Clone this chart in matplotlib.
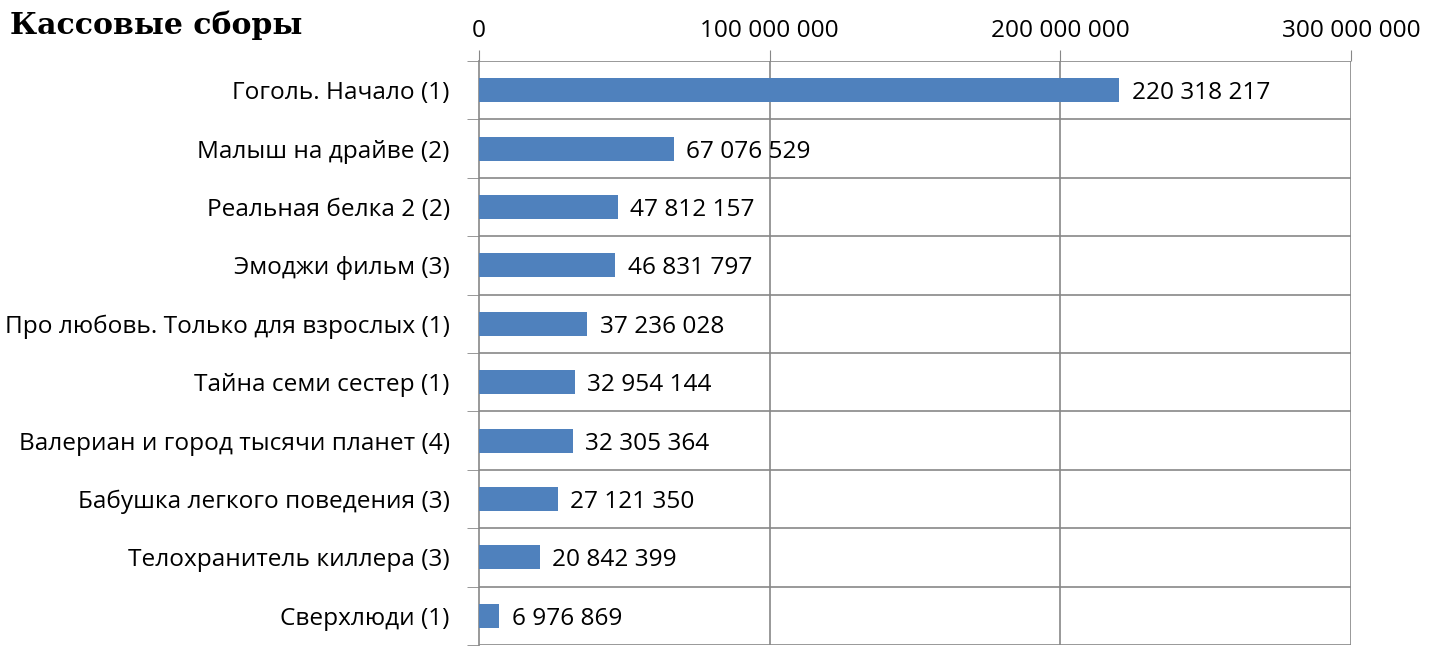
import matplotlib.pyplot as plt
import numpy as np

films = ['Гоголь. Начало (1)', 'Малыш на драйве (2)', 'Реальная белка 2 (2)',
         'Эмоджи фильм (3)', 'Про любовь. Только для взрослых (1)',
         'Тайна семи сестер (1)', 'Валериан и город тысячи планет (4)',
         'Бабушка легкого поведения (3)', 'Телохранитель киллера (3)',
         'Сверхлюди (1)']
sbory = [220318217, 67076529, 47812157, 46831797, 37236028,
         32954144, 32305364, 27121350, 20842399, 6976869]
xticks = [0, 100000000, 200000000, 300000000]

def fmt(v):
    return f'{v:,}'.replace(',', ' ')

plt.rcParams['font.family'] = ['Open Sans', 'DejaVu Sans']
grey = '#878787'
fs = 17.6

fig = plt.figure(figsize=(14.34, 6.63), dpi=100)
ax = fig.add_axes([479 / 1434, 18 / 663, 872 / 1434, 584 / 663])

y = np.arange(len(films))
ax.barh(y, sbory, height=0.41, color='#4f81bd', zorder=3)
for yi, v in zip(y, sbory):
    ax.text(v + 4300000, yi, fmt(v), va='center_baseline', ha='left', fontsize=fs)

ax.set_xlim(0, 300000000)
ax.set_ylim(len(films) - 0.5, -0.5)

ax.xaxis.tick_top()
ax.set_xticks(xticks)
ax.set_xticklabels([fmt(t) for t in xticks], fontsize=fs)
ax.tick_params(axis='x', length=8, color=grey, pad=5)

ax.set_yticks(y)
ax.set_yticklabels(films, fontsize=fs)
ax.tick_params(axis='y', which='major', length=0, pad=21)
for lab in ax.get_yticklabels():
    lab.set_verticalalignment('center_baseline')
ax.set_yticks(np.arange(len(films) + 1) - 0.5, minor=True)
ax.tick_params(axis='y', which='minor', length=9, color=grey)

for b in np.arange(len(films) + 1) - 0.5:
    ax.axhline(b, color=grey, lw=1.2, zorder=1)
for t in xticks[1:]:
    ax.axvline(t, color=grey, lw=1.2, zorder=1)

for s in ['top', 'right', 'bottom']:
    ax.spines[s].set_visible(False)
ax.spines['left'].set_color(grey)
ax.spines['left'].set_linewidth(1.2)

fig.text(10 / 1434, 1 - 25 / 663, 'Кассовые сборы', family='DejaVu Serif',
         fontweight='bold', fontsize=21.5, va='center', ha='left')

fig.savefig('out.png', dpi=100)
